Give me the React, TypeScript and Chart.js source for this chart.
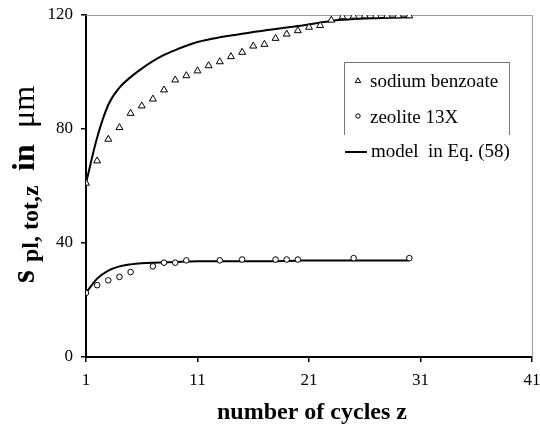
import React, { useEffect, useRef } from "react";
import { Chart, registerables } from "chart.js";

Chart.register(...registerables);

// ---- data ----
const benzoateCycles = [1, 2, 3, 4, 5, 6, 7, 8, 9, 10, 11, 12, 13, 14, 15, 16, 17, 18, 19, 20, 21, 22, 23, 24, 25, 26, 27, 28, 29, 30];
const benzoateValues = [61, 68.8, 76.4, 80.5, 85.5, 88.1, 90.5, 93.7, 97.2, 98.7, 100.4, 102.2, 103.6, 105.4, 106.9, 109.1, 109.7, 111.8, 113.3, 114.5, 115.7, 116.3, 118.2, 119.4, 119.6, 119.7, 119.7, 119.7, 119.7, 119.7];

const zeoliteCycles = [1, 2, 3, 4, 5, 7, 8, 9, 10, 13, 15, 18, 19, 20, 25, 30];
const zeoliteValues = [22.5, 25.2, 26.9, 28.1, 29.8, 31.8, 33.1, 33.1, 33.9, 33.9, 34.2, 34.2, 34.2, 34.2, 34.7, 34.7];

const modelCycles = [1, 2, 3, 4, 5, 6, 7, 8, 9, 10, 11, 12, 13, 14, 15, 16, 17, 18, 19, 20, 21, 22, 23, 24, 25, 26, 27, 28, 29, 30];
const modelBenzoate = [61, 77, 88.5, 94.5, 98.2, 101.2, 103.8, 106, 107.7, 109.2, 110.5, 111.4, 112.2, 112.8, 113.4, 114, 114.6, 115.1, 115.6, 116.1, 116.7, 117.3, 117.9, 118.3, 118.6, 118.8, 118.9, 119, 119.1, 119.2];
const modelZeolite = [22.5, 27.5, 30.3, 31.8, 32.5, 32.9, 33.1, 33.2, 33.3, 33.5, 33.6, 33.6, 33.6, 33.6, 33.6, 33.6, 33.6, 33.6, 33.7, 33.8, 33.9, 33.9, 33.9, 33.9, 33.9, 33.9, 33.9, 33.9, 33.9, 33.9];

const xTickValues = [1, 11, 21, 31, 41];
const yTickValues = [0, 40, 80, 120];

const legendLabels = ["sodium benzoate", "zeolite 13X", "model  in Eq. (58)"];
const xTitle = "number of cycles z";

const SERIF = "'Liberation Serif', 'Times New Roman', serif";

const decorPlugin = {
  id: "decor",
  beforeDatasetsDraw(chart: any) {
    const { ctx, chartArea } = chart;
    ctx.save();
    ctx.strokeStyle = "#9a9a9a";
    ctx.lineWidth = 1;
    ctx.beginPath();
    ctx.moveTo(chartArea.left, chartArea.top + 0.5);
    ctx.lineTo(chartArea.right + 0.5, chartArea.top + 0.5);
    ctx.lineTo(chartArea.right + 0.5, chartArea.bottom);
    ctx.stroke();
    ctx.restore();
  },
  afterDraw(chart: any) {
    const { ctx } = chart;
    ctx.save();
    ctx.fillStyle = "#000";

    // x title
    ctx.font = `bold 24px ${SERIF}`;
    ctx.textAlign = "center";
    ctx.textBaseline = "alphabetic";
    ctx.fillText(xTitle, 312, 419);

    // y title (rotated)
    ctx.save();
    ctx.translate(34, 287);
    ctx.rotate(-Math.PI / 2);
    ctx.textAlign = "left";
    ctx.font = `bold 33px ${SERIF}`;
    ctx.fillText("s", 4, 0);
    ctx.font = `bold 24px ${SERIF}`;
    ctx.fillText("pl, tot,z", 25, 4);
    ctx.font = `bold 32px ${SERIF}`;
    ctx.fillText("in", 116, 0);
    ctx.font = `32px ${SERIF}`;
    ctx.fillText("\u03bcm", 159, 0);
    ctx.restore();

    // legend box (top, left, right borders)
    ctx.strokeStyle = "#777";
    ctx.lineWidth = 1;
    ctx.beginPath();
    ctx.moveTo(344.5, 135);
    ctx.lineTo(344.5, 62.5);
    ctx.lineTo(509.5, 62.5);
    ctx.lineTo(509.5, 135);
    ctx.stroke();

    // legend markers
    ctx.strokeStyle = "#000";
    ctx.fillStyle = "#fff";
    ctx.lineWidth = 1;
    const tx = 358, ty = 81, tr = 3.2;
    ctx.beginPath();
    ctx.moveTo(tx, ty - tr);
    ctx.lineTo(tx + tr * 0.866, ty + tr * 0.5);
    ctx.lineTo(tx - tr * 0.866, ty + tr * 0.5);
    ctx.closePath();
    ctx.fill();
    ctx.stroke();
    ctx.beginPath();
    ctx.arc(358, 116, 2.2, 0, Math.PI * 2);
    ctx.fill();
    ctx.stroke();
    ctx.lineWidth = 2;
    ctx.beginPath();
    ctx.moveTo(345, 152);
    ctx.lineTo(367, 152);
    ctx.stroke();

    ctx.fillStyle = "#000";
    ctx.font = `19px ${SERIF}`;
    ctx.textAlign = "left";
    ctx.textBaseline = "middle";
    ctx.fillText(legendLabels[0], 370, 82);
    ctx.fillText(legendLabels[1], 370, 118);
    ctx.fillText(legendLabels[2], 371, 152);
    ctx.restore();
  },
};

export default function App() {
  const ref = useRef<HTMLCanvasElement>(null);

  useEffect(() => {
    if (!ref.current) return;
    const tickFont = { family: SERIF, size: 17 };
    const chart = new Chart(ref.current, {
      type: "scatter",
      data: {
        datasets: [
          {
            label: "model benzoate",
            data: modelCycles.map((x, i) => ({ x, y: modelBenzoate[i] })),
            showLine: true,
            borderColor: "#000",
            borderWidth: 2,
            pointRadius: 0,
            cubicInterpolationMode: "monotone",
            order: 2,
          },
          {
            label: "model zeolite",
            data: modelCycles.map((x, i) => ({ x, y: modelZeolite[i] })),
            showLine: true,
            borderColor: "#000",
            borderWidth: 2,
            pointRadius: 0,
            cubicInterpolationMode: "monotone",
            order: 2,
          },
          {
            label: legendLabels[0],
            data: benzoateCycles.map((x, i) => ({ x, y: benzoateValues[i] })),
            pointStyle: "triangle",
            pointRadius: 4,
            backgroundColor: "#fff",
            borderColor: "#000",
            borderWidth: 1,
            order: 1,
          },
          {
            label: legendLabels[1],
            data: zeoliteCycles.map((x, i) => ({ x, y: zeoliteValues[i] })),
            pointStyle: "circle",
            pointRadius: 2.8,
            backgroundColor: "#fff",
            borderColor: "#000",
            borderWidth: 1,
            order: 1,
          },
        ],
      },
      options: {
        animation: false,
        responsive: true,
        maintainAspectRatio: false,
        layout: { padding: { top: 15, right: 8, left: 0, bottom: 0 } },
        plugins: {
          legend: { display: false },
          tooltip: { enabled: false },
        },
        scales: {
          x: {
            type: "linear",
            min: 1,
            max: 41,
            afterBuildTicks: (s: any) => {
              s.ticks = xTickValues.map((v) => ({ value: v }));
            },
            afterFit: (s: any) => {
              s.height = 71;
              s.paddingLeft = 0;
              s.paddingRight = 0;
            },
            ticks: {
              font: tickFont,
              color: "#000",
              padding: 8,
              maxRotation: 0,
              autoSkip: false,
            },
            grid: {
              display: true,
              drawOnChartArea: false,
              drawTicks: true,
              tickLength: 5,
              color: "#000",
              lineWidth: 1.5,
            },
            border: { display: true, color: "#000", width: 2 },
          },
          y: {
            type: "linear",
            min: 0,
            max: 120,
            afterBuildTicks: (s: any) => {
              s.ticks = yTickValues.map((v) => ({ value: v }));
            },
            afterFit: (s: any) => {
              s.width = 86;
              s.paddingTop = 0;
              s.paddingBottom = 0;
            },
            ticks: {
              font: tickFont,
              color: "#000",
              padding: 8,
            },
            grid: {
              display: true,
              drawOnChartArea: false,
              drawTicks: true,
              tickLength: 5,
              color: "#000",
              lineWidth: 1.5,
            },
            border: { display: true, color: "#000", width: 2 },
          },
        },
      } as any,
      plugins: [decorPlugin],
    });
    return () => chart.destroy();
  }, []);

  return (
    <div style={{ position: "absolute", left: 0, top: 0, width: 540, height: 428, background: "#fff" }}>
      <canvas ref={ref} />
    </div>
  );
}
